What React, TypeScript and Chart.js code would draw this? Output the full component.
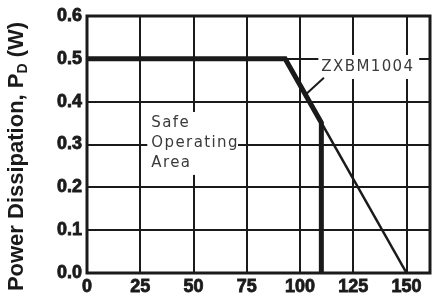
import React, { useEffect, useRef } from "react";
import { Chart, registerables } from "chart.js";

Chart.register(...registerables);

// ---- data ----
const xTicks = [0, 25, 50, 75, 100, 125, 150];
const yTicks = [0, 0.1, 0.2, 0.3, 0.4, 0.5, 0.6];
const X_MIN = 0;
const X_MAX = 161;
const Y_MIN = 0;
const Y_MAX = 0.6;

const ratedLine = [
  { x: 0, y: 0.5 },
  { x: 93, y: 0.5 },
  { x: 110, y: 0.351 },
  { x: 110, y: 0 },
];
const deratingLine = [
  { x: 110, y: 0.351 },
  { x: 150, y: 0 },
];
const leaderLine = [
  { x: 111.2, y: 0.456 },
  { x: 102.9, y: 0.418 },
];

const partLabel = "ZXBM1004";
const areaLabel = ["Safe", "Operating", "Area"];
const yTitleMain = "Power Dissipation, P";
const yTitleSub = "D";
const yTitleEnd = " (W)";

// ---- annotation placement (data units) ----
const partBox = { x0: 108.6, x1: 155.9, y0: 0.509, y1: 0.453 };
const partText = { x: 110, y: 0.481 };
const areaBox = { x0: 28.3, x1: 70.9, y0: 0.376, y1: 0.229 };
const areaText = { x: 30.2, ys: [0.35, 0.304, 0.257] };

const annotationPlugin = {
  id: "annotations",
  beforeDatasetsDraw(chart: any) {
    const { ctx } = chart;
    const xs = chart.scales.x;
    const ys = chart.scales.y;
    const px = (v: number) => xs.getPixelForValue(v);
    const py = (v: number) => ys.getPixelForValue(v);
    ctx.save();
    ctx.fillStyle = "#ffffff";
    ctx.fillRect(px(partBox.x0), py(partBox.y0), px(partBox.x1) - px(partBox.x0), py(partBox.y1) - py(partBox.y0));
    ctx.fillRect(px(areaBox.x0), py(areaBox.y0), px(areaBox.x1) - px(areaBox.x0), py(areaBox.y1) - py(areaBox.y0));
    ctx.fillStyle = "#3a3a3a";
    ctx.font = "15px 'DejaVu Sans'";
    (ctx as any).letterSpacing = "1.4px";
    ctx.textBaseline = "middle";
    ctx.textAlign = "left";
    ctx.fillText(partLabel, px(partText.x), py(partText.y));
    areaLabel.forEach((t, i) => ctx.fillText(t, px(areaText.x), py(areaText.ys[i])));
    ctx.restore();
  },
  afterDraw(chart: any) {
    const { ctx, chartArea } = chart;
    ctx.save();
    ctx.strokeStyle = "#1a1a1a";
    ctx.lineWidth = 3;
    ctx.strokeRect(chartArea.left, chartArea.top, chartArea.right - chartArea.left, chartArea.bottom - chartArea.top);
    // y title with subscript
    ctx.fillStyle = "#1a1a1a";
    const mainFont = "bold 22px 'Liberation Sans'";
    const subFont = "bold 14px 'Liberation Sans'";
    ctx.font = mainFont;
    const w1 = ctx.measureText(yTitleMain).width;
    const w3 = ctx.measureText(yTitleEnd).width;
    ctx.font = subFont;
    const w2 = ctx.measureText(yTitleSub).width;
    const total = w1 + w2 + w3;
    const cy = (chartArea.top + 297) / 2;
    ctx.translate(23, cy);
    ctx.rotate(-Math.PI / 2);
    ctx.textBaseline = "alphabetic";
    ctx.textAlign = "left";
    let x = -total / 2;
    ctx.font = mainFont;
    ctx.fillText(yTitleMain, x, 0);
    x += w1;
    ctx.font = subFont;
    ctx.fillText(yTitleSub, x, 4);
    x += w2;
    ctx.font = mainFont;
    ctx.fillText(yTitleEnd, x, 0);
    ctx.restore();
  },
};

export default function App() {
  const ref = useRef<HTMLCanvasElement | null>(null);
  useEffect(() => {
    document.body.style.margin = "0";
    const canvas = ref.current!;
    const tickFont = { family: "'Liberation Sans'", size: 18, weight: "bold" as const };
    const chart = new Chart(canvas, {
      type: "line",
      data: {
        datasets: [
          {
            data: ratedLine,
            borderColor: "#1a1a1a",
            borderWidth: 5,
            pointRadius: 0,
            borderJoinStyle: "miter",
            borderCapStyle: "butt",
          },
          {
            data: deratingLine,
            borderColor: "#1a1a1a",
            borderWidth: 2.5,
            pointRadius: 0,
          },
          {
            data: leaderLine,
            borderColor: "#1a1a1a",
            borderWidth: 2,
            pointRadius: 0,
          },
        ],
      },
      options: {
        animation: false,
        responsive: false,
        parsing: false as any,
        layout: { padding: { top: 16, right: 2, left: 0, bottom: 0 } },
        plugins: { legend: { display: false }, tooltip: { enabled: false } },
        scales: {
          x: {
            type: "linear",
            min: X_MIN,
            max: X_MAX,
            afterBuildTicks: (s: any) => {
              s.ticks = xTicks.map((v) => ({ value: v }));
            },
            afterFit: (s: any) => {
              s.height = 25;
            },
            grid: { color: "#1a1a1a", lineWidth: 2, drawTicks: false },
            border: { display: false },
            ticks: {
              color: "#1a1a1a",
              font: tickFont,
              padding: 3,
              maxRotation: 0,
              autoSkip: false,
              textStrokeColor: "#1a1a1a",
              textStrokeWidth: 0.8,
              callback: (v: any) => String(v),
            },
          },
          y: {
            type: "linear",
            min: Y_MIN,
            max: Y_MAX,
            afterBuildTicks: (s: any) => {
              s.ticks = yTicks.map((v) => ({ value: v }));
            },
            afterFit: (s: any) => {
              s.width = 87;
            },
            grid: { color: "#1a1a1a", lineWidth: 2, drawTicks: false },
            border: { display: false },
            ticks: {
              color: "#1a1a1a",
              font: tickFont,
              padding: 5,
              autoSkip: false,
              textStrokeColor: "#1a1a1a",
              textStrokeWidth: 0.8,
              callback: (v: any) => Number(v).toFixed(1),
            },
          },
        },
      },
      plugins: [annotationPlugin],
    });
    return () => chart.destroy();
  }, []);
  return (
    <div style={{ width: 432, height: 298 }}>
      <canvas ref={ref} width={432} height={298} style={{ display: "block" }} />
    </div>
  );
}
